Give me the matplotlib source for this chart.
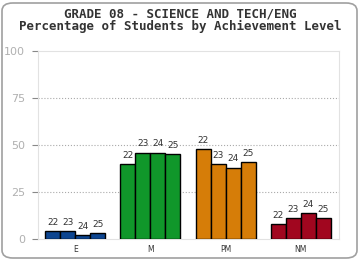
import matplotlib.pyplot as plt
from matplotlib.patches import FancyBboxPatch
import numpy as np

# achievement levels and years
levels = ['E', 'M', 'PM', 'NM']
years = ['22', '23', '24', '25']
pct_e = [4, 4, 2, 3]
pct_m = [40, 46, 46, 45]
pct_pm = [48, 40, 38, 41]
pct_nm = [8, 11, 14, 11]
colors = ['#0d4590', '#10972a', '#d67d08', '#a1061f']

fig = plt.figure(figsize=(3.6, 2.6), dpi=100)
ax = fig.add_axes([37.5/360, 21/260, 301/360, 188/260])

# rounded outer frame
fig.patches.append(FancyBboxPatch((2/360, 2/260), 355/360, 255/260,
                                  boxstyle='round,pad=0,rounding_size=0.03',
                                  transform=fig.transFigure, fill=False,
                                  edgecolor='#a0a0a0', linewidth=1.2))

w = 0.2
for i, vals in enumerate([pct_e, pct_m, pct_pm, pct_nm]):
    xs = i - 0.3 + w * np.arange(4)
    ax.bar(xs, vals, width=w, color=colors[i], edgecolor='black', linewidth=1.0, zorder=3)
    for x, v, yr in zip(xs, vals, years):
        ax.annotate(yr, (x, v), xytext=(0, 3), textcoords='offset points',
                    ha='center', va='bottom', fontsize=6.5, color='#333333',
                    family='DejaVu Sans')

ax.set_xlim(-0.5, 3.5)
ax.set_ylim(0, 100)
ax.set_yticks([0, 25, 50, 75, 100])
ax.set_xticks(range(4))
ax.set_xticklabels(levels, fontsize=5.5, color='#333333')
ax.tick_params(axis='x', length=0, pad=4)
ax.tick_params(axis='y', length=4, width=0.8, color='#888888', pad=5,
               labelsize=8, labelcolor='#b0b0b0')
for y in [25, 50, 75]:
    ax.axhline(y, color='#aaaaaa', linestyle=':', linewidth=0.8, zorder=1)
for s in ax.spines.values():
    s.set_color('#e2e2e2')
    s.set_linewidth(0.8)

fig.text(0.5, 1 - 14/260, 'GRADE 08 - SCIENCE AND TECH/ENG', ha='center', va='center',
         fontsize=9, fontweight='bold', family='DejaVu Sans Mono', color='#333333')
fig.text(0.5, 1 - 26/260, 'Percentage of Students by Achievement Level', ha='center',
         va='center', fontsize=9, fontweight='bold', family='DejaVu Sans Mono',
         color='#333333')

fig.savefig('out.png', dpi=100)
